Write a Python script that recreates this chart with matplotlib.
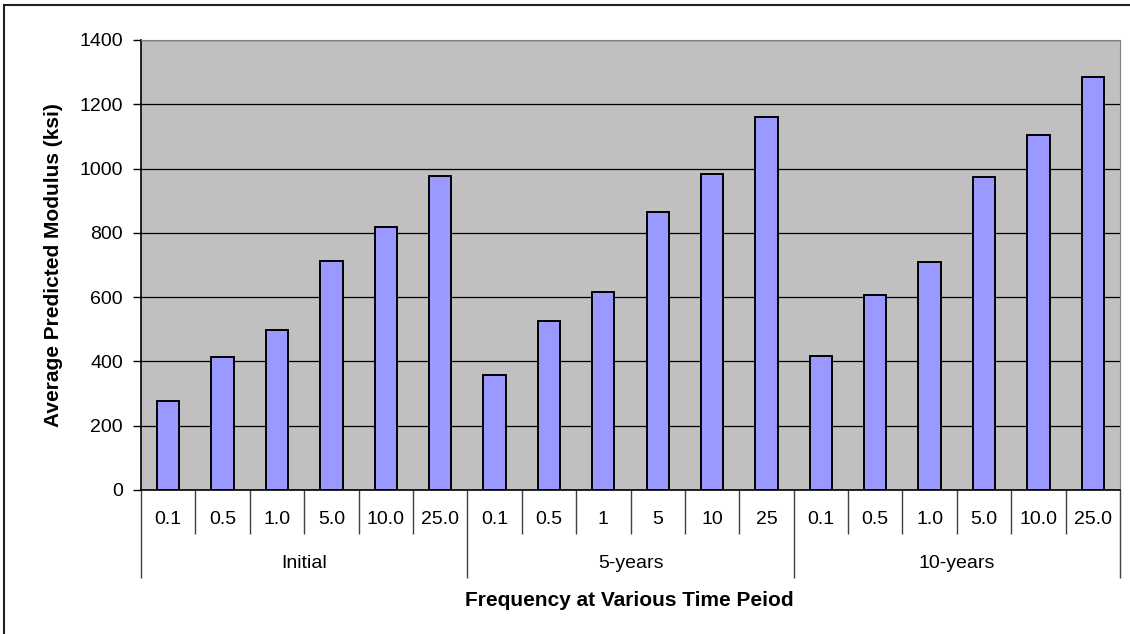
import matplotlib
matplotlib.use("Agg")
import matplotlib.pyplot as plt
from matplotlib.patches import Rectangle
import matplotlib.transforms as mtransforms

groups = ["Initial", "5-years", "10-years"]
freq_labels = [
    ["0.1", "0.5", "1.0", "5.0", "10.0", "25.0"],
    ["0.1", "0.5", "1", "5", "10", "25"],
    ["0.1", "0.5", "1.0", "5.0", "10.0", "25.0"],
]
modulus = [
    [278, 415, 497, 713, 819, 978],
    [357, 527, 616, 865, 983, 1160],
    [416, 607, 709, 975, 1104, 1285],
]

plt.rcParams["font.family"] = ["Liberation Sans", "DejaVu Sans"]

fig = plt.figure(figsize=(11.3, 6.34), dpi=100)
ax = fig.add_axes([141 / 1130, 1 - 490 / 634, 979 / 1130, 450 / 634])

vals = [v for g in modulus for v in g]
labels = [l for g in freq_labels for l in g]
xs = list(range(len(vals)))

ax.set_facecolor("#C0C0C0")
ax.bar(xs, vals, width=0.41, color="#9999FF", edgecolor="black", linewidth=1.4, zorder=3)

ax.set_xlim(-0.5, len(vals) - 0.5)
ax.set_ylim(0, 1400)
ax.set_yticks(range(0, 1401, 200))
ax.grid(axis="y", color="black", linewidth=0.9, zorder=1)
ax.tick_params(axis="y", direction="out", length=6, width=1, labelsize=14, pad=7)

# two-level category axis: short ticks per bar, long ticks per group
n = len(freq_labels[0])
ax.set_xticks([i - 0.5 for i in range(0, len(vals) + 1, n)])
ax.set_xticks([i - 0.5 for i in range(len(vals) + 1) if i % n != 0], minor=True)
ax.tick_params(axis="x", which="major", direction="out", length=63, width=1,
               color="#404040", labelbottom=False)
ax.tick_params(axis="x", which="minor", direction="out", length=32, width=1,
               color="#404040", labelbottom=False)

trans = mtransforms.blended_transform_factory(ax.transData, ax.transAxes)
for x, lab in zip(xs, labels):
    ax.text(x, -29 / 450, lab, transform=trans, ha="center", va="center", fontsize=14)
for gi, g in enumerate(groups):
    ax.text(gi * n + (n - 1) / 2, -73 / 450, g, transform=trans,
            ha="center", va="center", fontsize=14)

for side in ["top", "right"]:
    ax.spines[side].set_color("#808080")
ax.spines["left"].set_color("black")
ax.spines["bottom"].set_color("black")
ax.spines["left"].set_linewidth(1.2)
ax.spines["bottom"].set_linewidth(1.2)

ax.set_ylabel("Average Predicted Modulus (ksi)", fontsize=15, fontweight="bold", labelpad=12)
fig.text(629 / 1130, 1 - 601 / 634, "Frequency at Various Time Peiod",
         ha="center", va="center", fontsize=15, fontweight="bold")

# chart frame: only top and left edges fall inside the image
fig.patches.append(Rectangle((4 / 1130, -10 / 634), 1140 / 1130, 639 / 634,
                             transform=fig.transFigure, fill=False,
                             edgecolor="#202020", linewidth=1.5))

fig.savefig("out.png", dpi=100, facecolor="white")
